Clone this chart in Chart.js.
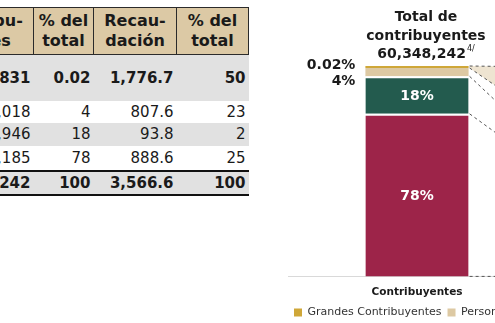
<!DOCTYPE html>
<html lang="es">
<head>
<meta charset="utf-8">
<script src="https://cdn.jsdelivr.net/npm/chart.js@4.4.1/dist/chart.umd.min.js"></script>
<style>
    html, body { margin: 0; padding: 0; width: 495px; height: 323px; overflow: hidden; background: #fff; }
    #tabla {
        position: absolute; left: -323px; top: 7px; width: 571px;
        border-collapse: collapse; table-layout: fixed;
        color: #1a1a1a; font-family: 'DejaVu Sans', sans-serif;
    }
    #tabla th {
        background: #dcc9a5; font-size: 16px; line-height: 20px; height: 46px;
        padding: 0; border: 1px solid #2b2b2b; text-align: center; font-weight: bold;
        white-space: nowrap;
    }
    #tabla td { font-size: 15px; padding: 0 3px 0 0; text-align: right; white-space: nowrap; }
    #tabla tr.gris td { background: #e1e1e1; }
    #tabla tr.negrita td { font-weight: bold; }
    #tabla tr.cierre td { border-bottom: 2px solid #111; }
    #grafica { position: absolute; left: 288px; top: 0; }
</style>
</head>
<body>
<table id="tabla">
    <colgroup><col style="width:250px"><col style="width:106px"><col style="width:60px"><col style="width:83px"><col style="width:72px"></colgroup>
    <thead><tr id="encabezado"></tr></thead>
    <tbody id="cuerpo"></tbody>
</table>
<canvas id="grafica" width="516" height="336"></canvas>
<script>
// tabla
const encabezados = ['Tipo de<br>contribuyente', 'Contribu-<br>yentes', '% del<br>total', 'Recau-<br>dación', '% del<br>total'];
const filas = ['Grandes contribuyentes', 'Personas morales', 'Personas físicas', 'Asalariados', 'Total'];
const numContribuyentes = ['12,831', '2,431,018', '10,891,946', '47,012,185', '60,348,242'];
const pctContribTabla = ['0.02', '4', '18', '78', '100'];
const recaudacion = ['1,776.7', '807.6', '93.8', '888.6', '3,566.6'];
const pctRecaudTabla = ['50', '23', '2', '25', '100'];

// grafica
const categorias = ['Contribuyentes', 'Recaudación'];
const series = ['Grandes Contribuyentes', 'Personas morales', 'Personas físicas', 'Asalariados'];
const pctContribuyentes = [0.02, 4, 18, 78];
const pctRecaudacion = [50, 23, 2, 25];
const totalContribuyentes = 60348242;
const notaTotal = '4/';

const colores = ['#cfa738', '#ddc9a3', '#235b4e', '#9d2449'];
const FUENTE = "'DejaVu Sans', sans-serif";

// armar tabla
document.getElementById('encabezado').innerHTML = encabezados.map(h => `<th>${h}</th>`).join('');
const alturas = [46, 22, 23, 25, 24];
const cuerpo = document.getElementById('cuerpo');
filas.forEach((nombre, i) => {
    const tr = document.createElement('tr');
    tr.style.height = alturas[i] + 'px';
    if (i % 2 === 0) tr.classList.add('gris');
    if (i === 0 || i === 4) tr.classList.add('negrita');
    if (i >= 3) tr.classList.add('cierre');
    tr.innerHTML = `
        <td style="text-align:left;padding-left:4px">${nombre}</td>
        <td>${numContribuyentes[i]}</td>
        <td>${pctContribTabla[i]}</td>
        <td>${recaudacion[i]}</td>
        <td>${pctRecaudTabla[i]}</td>`;
    cuerpo.appendChild(tr);
});

function segmento(meta, j) {
    const e = meta.data[j];
    return {
        x: e.x,
        top: Math.min(e.y, e.base),
        bot: Math.max(e.y, e.base),
        left: e.x - e.width / 2,
        right: e.x + e.width / 2
    };
}

const extras = {
    id: 'extras',
    afterLayout(chart) {
        // la leyenda queda mas pegada a las etiquetas del eje
        if (chart.legend) {
            chart.legend.top -= 8;
            chart.legend.bottom -= 8;
        }
    },
    afterDatasetsDraw(chart) {
        const ctx = chart.ctx;
        const n = chart.data.datasets.length;
        const metas = [];
        for (let i = n - 1; i >= 0; i--) metas.push({ meta: chart.getDatasetMeta(i), ds: chart.data.datasets[i] });

        // conectores entre barras
        const a0 = segmento(metas[0].meta, 0);
        const b0 = segmento(metas[0].meta, 1);
        const r1 = a0.right + 1;
        const l2 = b0.left - 1;

        ctx.save();
        ctx.fillStyle = 'rgba(221,201,163,0.5)';
        ctx.beginPath();
        ctx.moveTo(r1, a0.top);
        ctx.lineTo(l2, b0.top);
        ctx.lineTo(l2, b0.bot);
        ctx.lineTo(r1, a0.bot);
        ctx.closePath();
        ctx.fill();

        ctx.strokeStyle = '#555';
        ctx.lineWidth = 1;
        ctx.setLineDash([3, 3]);
        const linea = (y1, y2) => {
            ctx.beginPath();
            ctx.moveTo(r1, y1);
            ctx.lineTo(l2, y2);
            ctx.stroke();
        };
        linea(a0.top, b0.top);
        metas.forEach(m => {
            linea(segmento(m.meta, 0).bot, segmento(m.meta, 1).bot);
        });
        ctx.setLineDash([]);

        // etiquetas de porcentaje
        ctx.font = `bold 14px ${FUENTE}`;
        ctx.textBaseline = 'middle';
        [0, 1].forEach(j => {
            let prevY = -Infinity;
            metas.forEach(m => {
                const s = segmento(m.meta, j);
                const texto = m.ds.data[j] + '%';
                const h = s.bot - s.top;
                if (h >= 20) {
                    ctx.fillStyle = '#ffffff';
                    ctx.textAlign = 'center';
                    ctx.fillText(texto, s.x, (s.top + s.bot) / 2 + 1);
                } else {
                    const y = Math.max((s.top + s.bot) / 2 - 2, prevY + 16);
                    ctx.fillStyle = '#1a1a1a';
                    ctx.textAlign = j === 0 ? 'right' : 'left';
                    ctx.fillText(texto, j === 0 ? s.left - 10 : s.right + 10, y);
                    prevY = y;
                }
            });
        });

        // titulo sobre la primera barra
        const cx = a0.x + 9;
        const top = chart.chartArea.top;
        ctx.fillStyle = '#1a1a1a';
        ctx.textAlign = 'center';
        ctx.font = `bold 14px ${FUENTE}`;
        ctx.fillText('Total de', cx, top - 51);
        ctx.fillText('contribuyentes', cx, top - 32);
        const numero = totalContribuyentes.toLocaleString('en-US');
        const wNum = ctx.measureText(numero).width;
        ctx.font = `8px ${FUENTE}`;
        const wSup = ctx.measureText(notaTotal).width;
        const x0 = cx - (wNum + 1 + wSup) / 2;
        ctx.textAlign = 'left';
        ctx.font = `bold 14px ${FUENTE}`;
        ctx.fillText(numero, x0, top - 14);
        ctx.font = `8px ${FUENTE}`;
        ctx.fillText(notaTotal, x0 + wNum + 1, top - 19);
        ctx.restore();
    }
};

const datasets = series.map((nombre, i) => ({
    label: nombre,
    data: [pctContribuyentes[i], pctRecaudacion[i]],
    backgroundColor: colores[i],
    borderColor: '#ffffff',
    borderWidth: i < 2 ? 0 : { top: 2, right: 0, bottom: 0, left: 0 },
    minBarLength: i === 0 ? 2 : 0,
    clip: false
})).reverse();

new Chart(document.getElementById('grafica'), {
    type: 'bar',
    data: { labels: categorias, datasets: datasets },
    options: {
        responsive: false,
        animation: false,
        layout: { padding: { top: 68, bottom: 0, left: 0, right: 0 } },
        datasets: { bar: { barPercentage: 0.4, categoryPercentage: 1 } },
        scales: {
            x: {
                stacked: true,
                grid: { display: false, drawTicks: false },
                border: { color: '#d9d9d9' },
                ticks: { color: '#1a1a1a', padding: 10, font: { family: FUENTE, size: 10.5, weight: 'bold' } }
            },
            y: { stacked: true, display: false, min: 0, max: 100 }
        },
        plugins: {
            tooltip: { enabled: false },
            legend: {
                position: 'bottom',
                align: 'start',
                reverse: true,
                labels: {
                    color: '#333',
                    boxWidth: 8,
                    boxHeight: 8,
                    padding: 6,
                    font: { family: FUENTE, size: 11 },
                    generateLabels: (chart) => Chart.defaults.plugins.legend.labels.generateLabels(chart)
                        .map(l => ({ ...l, lineWidth: 0 }))
                }
            }
        }
    },
    plugins: [extras]
});
</script>
</body>
</html>
